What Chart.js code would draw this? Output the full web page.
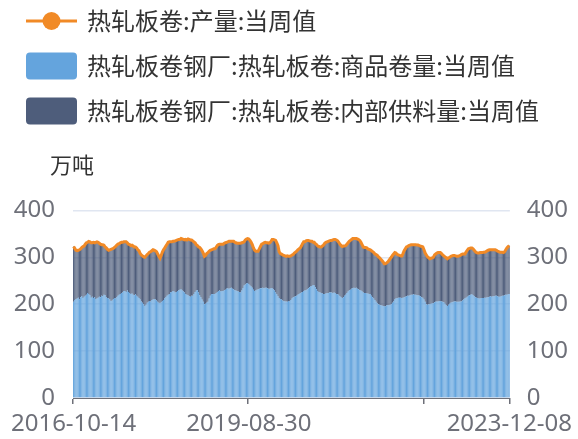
<!DOCTYPE html>
<html><head><meta charset="utf-8">
<script src="https://cdn.jsdelivr.net/npm/chart.js@4.4.0/dist/chart.umd.min.js"></script>
<style>html,body{margin:0;padding:0;background:#fff;}#wrap{width:578px;height:439px;}</style>
</head><body><div id="wrap"><canvas id="c" width="578" height="439"></canvas></div>
<script>
// x categories: weekly report dates from 2016-10-14 to 2023-12-08
const firstWeek = '2016-10-14';
const weekCount = 374;
const categories = [];
for (let i = 0; i < weekCount; i++) {
  const d = new Date(Date.parse(firstWeek + 'T00:00:00Z') + i * 7 * 86400000);
  categories.push(d.toISOString().slice(0, 10));
}
const seriesNames = ['热轧板卷:产量:当周值', '热轧板卷钢厂:热轧板卷:商品卷量:当周值', '热轧板卷钢厂:热轧板卷:内部供料量:当周值'];
const axisUnit = '万吨';
const yTicks = [0, 100, 200, 300, 400];
const labeledTickIdx = [0, 150, 373];
const markedTickIdx = [0, 150, 300];

// 商品卷量 (万吨)
const commercialCoil = [
205,209,211,212,214,210,215,217,213,216,
218,220,224,222,219,214,216,213,215,211,
212,214,216,215,218,217,220,219,215,213,
212,210,207,208,211,213,212,215,218,220,
222,224,225,228,228,226,229,226,224,222,
223,220,219,221,218,216,213,210,206,203,
200,196,199,203,205,207,206,209,210,211,
210,208,205,203,202,204,207,209,212,215,
218,220,222,225,226,228,227,225,226,228,
230,231,232,229,227,225,222,220,219,217,
216,218,218,222,226,229,230,225,219,215,
210,205,200,201,203,205,212,218,222,221,
222,222,224,226,228,229,227,228,228,230,
231,233,234,233,234,235,233,232,230,229,
228,227,226,225,229,234,240,242,244,245,
243,240,238,235,231,228,229,231,232,233,
234,234,235,234,235,235,234,233,233,234,
234,232,229,225,221,217,213,211,210,208,
207,206,206,205,207,206,209,212,215,216,
217,218,220,222,224,225,226,228,229,230,
232,234,236,238,239,241,240,236,232,228,
226,225,224,223,222,222,223,224,224,225,
225,225,224,225,224,222,221,220,217,215,
213,215,218,220,224,227,230,231,233,234,
235,234,235,233,232,230,229,227,225,224,
224,223,223,222,222,218,215,212,209,205,
202,200,199,198,197,196,196,195,197,198,
198,199,200,203,206,210,212,213,214,214,
214,213,214,215,216,217,218,218,219,220,
220,221,220,220,219,219,218,217,215,214,
210,205,200,199,200,200,201,202,202,204,
205,206,206,207,207,206,205,204,201,198,
196,199,201,203,204,205,206,206,205,205,
205,206,206,208,210,212,214,216,218,219,
220,221,219,217,215,214,213,212,212,213,
213,213,214,214,215,215,216,217,216,217,
217,218,218,217,216,216,217,218,218,219,
220,220,221,222
];
// 内部供料量 (万吨)
const internalSupply = [
118,110,104,102,101,106,103,104,110,108,
110,111,108,112,114,117,115,119,116,121,
121,118,114,113,109,110,106,103,105,104,
103,106,110,110,108,108,111,111,110,109,
109,108,107,105,105,107,102,102,103,103,
103,104,103,101,102,100,101,98,99,100,
101,104,104,103,103,104,106,105,106,104,
104,104,102,99,96,100,104,107,108,109,
110,112,111,108,107,106,107,110,110,109,
108,107,108,110,111,112,116,117,120,121,
121,119,117,111,105,98,95,97,102,103,
104,104,102,103,105,105,101,97,94,96,
96,96,97,99,99,99,101,100,100,100,
100,99,99,101,100,99,101,102,102,102,
102,103,104,105,102,98,93,95,95,95,
96,96,94,92,89,87,84,82,81,85,
89,94,94,97,97,96,97,97,98,100,
104,106,108,111,110,108,99,97,97,97,
97,97,96,98,95,96,94,93,91,93,
94,95,96,96,96,99,103,105,104,105,
104,102,99,96,95,91,92,93,95,96,
97,97,98,101,104,108,109,109,110,110,
111,111,113,113,114,115,114,112,111,110,
110,109,106,105,104,104,104,105,105,106,
105,106,105,106,106,106,103,100,97,97,
97,97,95,95,94,96,97,98,98,101,
102,101,100,98,96,94,90,91,91,92,
95,98,100,101,101,100,97,93,91,90,
89,90,94,99,102,105,105,107,107,107,
107,106,107,107,107,107,107,107,108,108,
106,104,105,102,99,97,97,97,98,101,
102,103,104,103,103,102,100,99,100,101,
101,100,99,99,99,99,98,97,97,97,
98,98,100,99,97,95,97,99,100,100,
100,99,99,98,97,96,96,97,98,97,
97,98,97,98,99,100,100,99,100,99,
99,98,97,96,96,95,94,93,92,93,
96,100,102,103
];
// 产量 (万吨)
const totalOutput = [
323,319,315,314,315,316,318,321,323,324,
328,331,332,334,333,331,331,332,331,332,
333,332,330,328,327,327,326,322,320,317,
315,316,317,318,319,321,323,326,328,329,
331,332,332,333,333,333,331,328,327,325,
326,324,322,322,320,316,314,308,305,303,
301,300,303,306,308,311,312,314,316,315,
314,312,307,302,298,304,311,316,320,324,
328,332,333,333,333,334,334,335,336,337,
338,338,340,339,338,337,338,337,339,338,
337,337,335,333,331,327,325,322,321,318,
314,309,302,304,308,310,313,315,316,317,
318,318,321,325,327,328,328,328,328,330,
331,332,333,334,334,334,334,334,332,331,
330,330,330,330,331,332,333,337,339,340,
339,336,332,327,320,315,313,313,313,318,
323,328,329,331,332,331,331,330,331,334,
338,338,337,336,331,325,312,308,307,305,
304,303,302,303,302,302,303,305,306,309,
311,313,316,318,320,324,329,333,333,335,
336,336,335,334,334,332,332,329,327,324,
323,322,322,324,326,330,332,333,334,335,
336,336,337,338,338,337,335,332,328,325,
323,324,324,325,328,331,334,336,338,340,
340,340,340,339,338,336,332,327,322,321,
321,320,318,317,316,314,312,310,307,306,
304,301,299,296,293,290,286,286,288,290,
293,297,300,304,307,310,309,306,305,304,
303,303,308,314,318,322,323,325,326,327,
327,327,327,327,326,326,325,324,323,322,
316,309,305,301,299,297,298,299,300,305,
307,309,310,310,310,308,305,303,301,299,
297,299,300,302,303,304,304,303,302,302,
303,304,306,307,307,307,311,315,318,319,
320,320,318,315,312,310,309,309,310,310,
310,311,311,312,314,315,316,316,316,316,
316,316,315,313,312,311,311,311,310,312,
316,320,323,325
];

const COL_LINE = '#F18A26', COL_BLUE = '#64A4DD', COL_DARK = '#4E5D7B';
const TICK_COLOR = '#6E7079', TEXT_COLOR = '#333333';
const CJK = '"Noto Sans CJK SC", "Noto Sans", sans-serif';
const NUM = '"Noto Sans", "Noto Sans CJK SC", sans-serif';

function makeIcon(kind, color) {
  const c = document.createElement('canvas');
  c.width = 60; c.height = 30;
  const g = c.getContext('2d');
  if (kind === 'line') {
    g.strokeStyle = color; g.lineWidth = 3;
    g.beginPath(); g.moveTo(8, 15); g.lineTo(59, 15); g.stroke();
    g.fillStyle = color; g.beginPath(); g.arc(33.5, 15, 9, 0, Math.PI * 2); g.fill();
  } else {
    g.fillStyle = color; g.beginPath();
    g.roundRect(8, 1.5, 51, 27, 4); g.fill();
  }
  return c;
}
const icons = [makeIcon('line', COL_LINE), makeIcon('box', COL_BLUE), makeIcon('box', COL_DARK)];

const titleShift = {
  id: 'titleShift',
  afterLayout(chart) { chart.titleBlock.left = chart.chartArea.left - 23; }
};

new Chart(document.getElementById('c'), {
  data: {
    labels: categories,
    datasets: [
      { type: 'line', label: seriesNames[0], data: totalOutput, yAxisID: 'y', stack: 'total', order: 0,
        borderColor: COL_LINE, backgroundColor: COL_LINE, borderWidth: 3, pointRadius: 0, tension: 0 },
      { type: 'bar', label: seriesNames[1], data: commercialCoil, yAxisID: 'y', stack: 'bars', order: 1,
        backgroundColor: COL_BLUE, borderWidth: 0, barPercentage: 1, categoryPercentage: 0.9 },
      { type: 'bar', label: seriesNames[2], data: internalSupply, yAxisID: 'y', stack: 'bars', order: 2,
        backgroundColor: COL_DARK, borderWidth: 0, barPercentage: 1, categoryPercentage: 0.9 }
    ]
  },
  options: {
    responsive: false, animation: false,
    layout: { padding: { top: -12, left: 0, right: 0, bottom: 0 } },
    plugins: {
      tooltip: { enabled: false },
      legend: {
        position: 'top', align: 'start',
        labels: {
          usePointStyle: true, pointStyleWidth: 54, padding: 21, color: TEXT_COLOR,
          font: { size: 24, family: CJK },
          generateLabels: (chart) => chart.data.datasets.map((ds, i) => ({
            text: ds.label, fillStyle: ds.backgroundColor, strokeStyle: ds.backgroundColor,
            lineWidth: 0, pointStyle: icons[i], datasetIndex: i, hidden: false, fontColor: TEXT_COLOR
          }))
        }
      },
      title: {
        display: true, text: axisUnit, align: 'start', position: 'top', weight: 500,
        color: TEXT_COLOR, font: { size: 22, family: CJK, weight: 'normal' },
        padding: { top: 18, bottom: 33 }
      }
    },
    scales: {
      x: {
        type: 'category', offset: true,
        grid: { offset: true, drawOnChartArea: false, drawTicks: true, tickLength: 6, lineWidth: 1.5,
          color: (c) => (c.type !== 'tick' || markedTickIdx.includes(c.index)) ? TICK_COLOR : 'rgba(0,0,0,0)' },
        border: { display: true, color: TICK_COLOR, width: 1 },
        ticks: { autoSkip: false, maxRotation: 0, minRotation: 0, padding: 6, color: TICK_COLOR,
          font: { size: 24, family: NUM },
          callback: (v, i) => labeledTickIdx.includes(i) ? categories[i] : '' },
        afterFit: (s) => { s.height = 41; }
      },
      y: {
        position: 'left', stacked: true, min: 0, max: 400,
        afterBuildTicks: (s) => { s.ticks = yTicks.map(v => ({ value: v })); },
        grid: { color: '#E0E6F1', drawTicks: false, lineWidth: 1.5 },
        border: { display: false },
        ticks: { padding: 18, color: TICK_COLOR, font: { size: 24, family: NUM } },
        afterFit: (s) => { s.width = 73; }
      },
      y2: {
        position: 'right', display: true, min: 0, max: 400,
        afterBuildTicks: (s) => { s.ticks = yTicks.map(v => ({ value: v })); },
        grid: { display: false, drawTicks: false },
        border: { display: false },
        ticks: { padding: 17, color: TICK_COLOR, font: { size: 24, family: NUM } },
        afterFit: (s) => { s.width = 68; }
      }
    }
  },
  plugins: [titleShift]
});
</script></body></html>
